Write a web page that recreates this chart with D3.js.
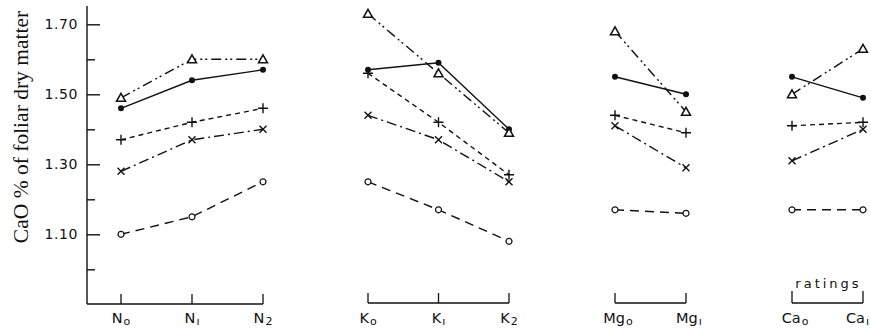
<!DOCTYPE html>
<html>
<head>
<meta charset="utf-8">
<script src="https://cdn.jsdelivr.net/npm/d3@7"></script>
<style>
  html, body { margin: 0; padding: 0; background: #fff; }
  svg { display: block; }
</style>
</head>
<body>
<svg id="chart" width="871" height="329"></svg>
<script>
// Treatment levels, grouped by nutrient
const nLevels  = ["N0", "N1", "N2"];
const kLevels  = ["K0", "K1", "K2"];
const mgLevels = ["Mg0", "Mg1"];
const caLevels = ["Ca0", "Ca1"];

// Level labels: [main text, subscript]
const nTicks  = [["N", "o"], ["N", "ı"], ["N", "2"]];
const kTicks  = [["K", "o"], ["K", "ı"], ["K", "2"]];
const mgTicks = [["Mg", "o"], ["Mg", "ı"]];
const caTicks = [["Ca", "o"], ["Ca", "ı"]];

// CaO % of foliar dry matter, in the order N0..N2, K0..K2, Mg0, Mg1, Ca0, Ca1
const seriesTriangle = [1.49, 1.60, 1.60, 1.73, 1.56, 1.39, 1.68, 1.45, 1.50, 1.63];
const seriesDot      = [1.46, 1.54, 1.57, 1.57, 1.59, 1.40, 1.55, 1.50, 1.55, 1.49];
const seriesPlus     = [1.37, 1.42, 1.46, 1.56, 1.42, 1.27, 1.44, 1.39, 1.41, 1.42];
const seriesCross    = [1.28, 1.37, 1.40, 1.44, 1.37, 1.25, 1.41, 1.29, 1.31, 1.40];
const seriesCircle   = [1.10, 1.15, 1.25, 1.25, 1.17, 1.08, 1.17, 1.16, 1.17, 1.17];

// Y axis ticks
const majorTicks = [1.10, 1.30, 1.50, 1.70];
const minorTicks = [1.00, 1.20, 1.40, 1.60];

const yTitle = "CaO % of foliar dry matter";
const ratingsLabel = "ratings";

// ---------------------------------------------------------------
const svg = d3.select("#chart");
const ink = "#111";

const axisX = 87;
const baseY = 304;

const y = d3.scaleLinear().domain([1.10, 1.70]).range([234.3, 24.3]);

const groups = [
  { levels: nLevels,  ticks: nTicks,  range: [121, 263] },
  { levels: kLevels,  ticks: kTicks,  range: [368, 509] },
  { levels: mgLevels, ticks: mgTicks, range: [615, 686] },
  { levels: caLevels, ticks: caTicks, range: [792, 863] }
];
groups.forEach(g => { g.x = d3.scalePoint().domain(g.levels).range(g.range); });

const series = [
  { values: seriesCircle,   marker: "circle",   dash: "9,6" },
  { values: seriesCross,    marker: "cross",    dash: "10,4,2,4" },
  { values: seriesPlus,     marker: "plus",     dash: "5,4" },
  { values: seriesDot,      marker: "dot",      dash: null },
  { values: seriesTriangle, marker: "triangle", dash: "10,4,2,3,2,4" }
];

// ---- Y axis ----
svg.append("line")
  .attr("x1", axisX).attr("x2", axisX)
  .attr("y1", 6).attr("y2", baseY)
  .attr("stroke", ink).attr("stroke-width", 1.4);

const yMajor = svg.append("g")
  .attr("transform", `translate(${axisX},0)`)
  .call(d3.axisLeft(y).tickValues(majorTicks).tickSize(-13).tickPadding(9)
    .tickFormat(d => d3.format(".2f")(d)));
yMajor.select(".domain").remove();
yMajor.selectAll(".tick line").attr("stroke", ink).attr("stroke-width", 1.4);
yMajor.selectAll(".tick text")
  .attr("font-family", "'DejaVu Sans', sans-serif")
  .attr("font-size", 14)
  .attr("letter-spacing", "0.6px")
  .attr("fill", ink);

const yMinor = svg.append("g")
  .attr("transform", `translate(${axisX},0)`)
  .call(d3.axisLeft(y).tickValues(minorTicks).tickSize(-8).tickFormat(""));
yMinor.select(".domain").remove();
yMinor.selectAll(".tick line").attr("stroke", ink).attr("stroke-width", 1.4);

svg.append("text")
  .attr("transform", "translate(28,127) rotate(-90)")
  .attr("text-anchor", "middle")
  .attr("font-family", "'Liberation Serif', 'DejaVu Serif', serif")
  .attr("font-size", 21.5)
  .attr("fill", ink)
  .text(yTitle);

// ---- Group baselines, brackets and level labels ----
groups.forEach((g, gi) => {
  const x0 = gi === 0 ? axisX : g.range[0];
  const x1 = g.range[1];
  const by = gi === 0 ? baseY : baseY - 1;
  svg.append("line")
    .attr("x1", x0).attr("x2", x1).attr("y1", by).attr("y2", by)
    .attr("stroke", ink).attr("stroke-width", 1.3);

  const tickTop = gi === 3 ? by - 12 : by - 10;
  svg.selectAll(null).data(g.levels).enter().append("line")
    .attr("x1", d => g.x(d)).attr("x2", d => g.x(d))
    .attr("y1", by).attr("y2", tickTop)
    .attr("stroke", ink).attr("stroke-width", 1.3);

  g.levels.forEach((lv, i) => {
    const last = gi === groups.length - 1 && i === g.levels.length - 1;
    const t = svg.append("text")
      .attr("x", last ? 869 : g.x(lv) + (g.ticks[i][0].length > 1 ? 3 : 0))
      .attr("y", 323)
      .attr("text-anchor", last ? "end" : "middle")
      .attr("font-family", "'DejaVu Sans', sans-serif")
      .attr("font-size", 14.5)
      .attr("fill", ink);
    t.append("tspan").text(g.ticks[i][0]);
    t.append("tspan").attr("font-size", 11).attr("dy", 2).attr("dx", 1).text(g.ticks[i][1]);
  });
});

svg.append("text")
  .attr("x", (groups[3].range[0] + groups[3].range[1]) / 2 + 1)
  .attr("y", 288)
  .attr("text-anchor", "middle")
  .attr("font-family", "'DejaVu Sans', sans-serif")
  .attr("font-size", 13)
  .attr("letter-spacing", "3px")
  .attr("fill", ink)
  .text(ratingsLabel);

// ---- Series lines and markers ----
let offset = 0;
const groupSlices = groups.map(g => {
  const s = { g, start: offset };
  offset += g.levels.length;
  return s;
});

const line = d3.line().x(d => d.x).y(d => d.y);

series.forEach(s => {
  groupSlices.forEach(({ g, start }) => {
    const pts = g.levels.map((lv, i) => ({ x: g.x(lv), y: y(s.values[start + i]) }));
    svg.append("path")
      .attr("d", line(pts))
      .attr("fill", "none")
      .attr("stroke", ink)
      .attr("stroke-width", 1.4)
      .attr("stroke-dasharray", s.dash);
    pts.forEach(p => drawMarker(s.marker, p.x, p.y));
  });
});

function drawMarker(type, cx, cy) {
  const m = svg.append("g").attr("transform", `translate(${cx},${cy})`);
  if (type === "dot") {
    m.append("circle").attr("r", 3).attr("fill", ink);
  } else if (type === "circle") {
    m.append("circle").attr("r", 3).attr("fill", "#fff")
      .attr("stroke", ink).attr("stroke-width", 1.2);
  } else if (type === "triangle") {
    m.append("path").attr("d", "M0,-4.5L4.5,3.5L-4.5,3.5Z")
      .attr("fill", "#fff").attr("stroke", ink).attr("stroke-width", 1.5);
  } else if (type === "plus") {
    m.append("path").attr("d", "M-5,0H5M0,-5V5")
      .attr("stroke", ink).attr("stroke-width", 1.4);
  } else if (type === "cross") {
    m.append("path").attr("d", "M-3.5,-3.5L3.5,3.5M-3.5,3.5L3.5,-3.5")
      .attr("stroke", ink).attr("stroke-width", 1.4);
  }
}
</script>
</body>
</html>
